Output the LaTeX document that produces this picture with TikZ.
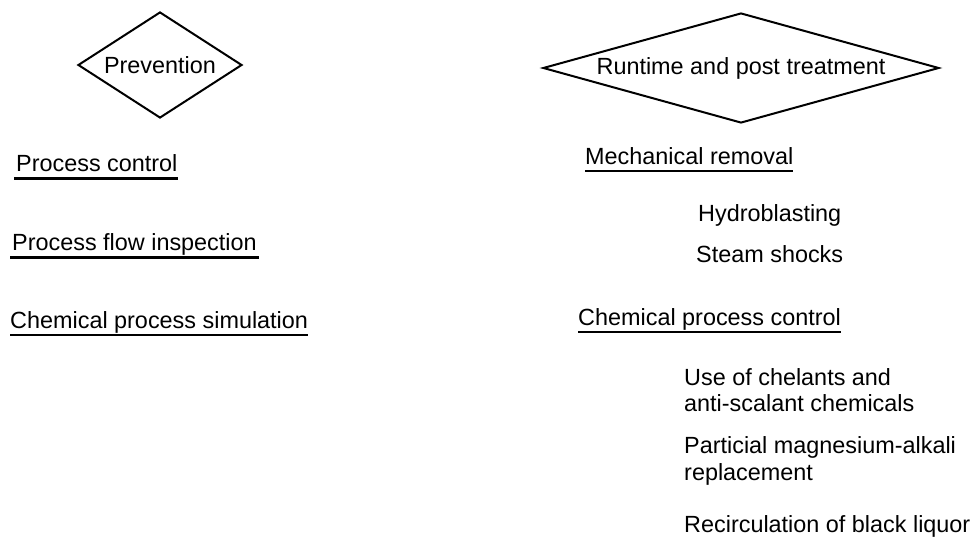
\documentclass[tikz,border=0pt]{standalone}
\usepackage{fontspec}
\setmainfont{Liberation Sans}
\usetikzlibrary{shapes.geometric}
\begin{document}
\begin{tikzpicture}[x=1pt,y=-1pt,
  every node/.style={inner sep=0pt, font=\fontsize{23.4}{27}\selectfont},
  dia/.style={diamond, draw, line width=2pt, inner sep=0pt},
  item/.style={anchor=base west},
  ul/.style={line width=2.5pt}]
\useasboundingbox (0,0) rectangle (974,548);
% diamonds
\node[dia, aspect=1.547, minimum width=164pt, minimum height=106pt] (prev) at (160,65) {Prevention};
\node[dia, aspect=3.6, minimum width=396pt, minimum height=110pt] (run) at (741,68) {Runtime and post treatment};
% left column
\node[item] (pc) at (16,171.7) {Process control};
\node[item] (pfi) at (12,250.7) {Process flow inspection};
\node[item] (cps) at (10,328.3) {Chemical process simulation};
\draw[ul] ([xshift=-2pt,yshift=-6.6pt]pc.base west) -- ([yshift=-6.6pt]pc.base east);
\draw[ul] ([xshift=-2pt,yshift=-6.6pt]pfi.base west) -- ([xshift=2pt,yshift=-6.6pt]pfi.base east);
\draw[ul] ([yshift=-6.6pt]cps.base west) -- ([yshift=-6.6pt]cps.base east);
% right column
\node[item] (mr) at (585,164.2) {Mechanical removal};
\draw[ul] ([yshift=-6.6pt]mr.base west) -- ([yshift=-6.6pt]mr.base east);
\node[item] (hb) at (698,221.5) {Hydroblasting};
\node[item] (ss) at (696,262) {Steam shocks};
\node[item] (cpc) at (578,325.2) {Chemical process control};
\draw[ul] ([yshift=-6.6pt]cpc.base west) -- ([yshift=-6.6pt]cpc.base east);
\node[item] (uc1) at (684,385) {Use of chelants and};
\node[item] (uc2) at (684,411.7) {anti-scalant chemicals};
\node[item] (pm1) at (684,453) {Particial magnesium-alkali};
\node[item] (pm2) at (684,480) {replacement};
\node[item] (rb) at (684,532) {Recirculation of black liquor};
\end{tikzpicture}
\end{document}
